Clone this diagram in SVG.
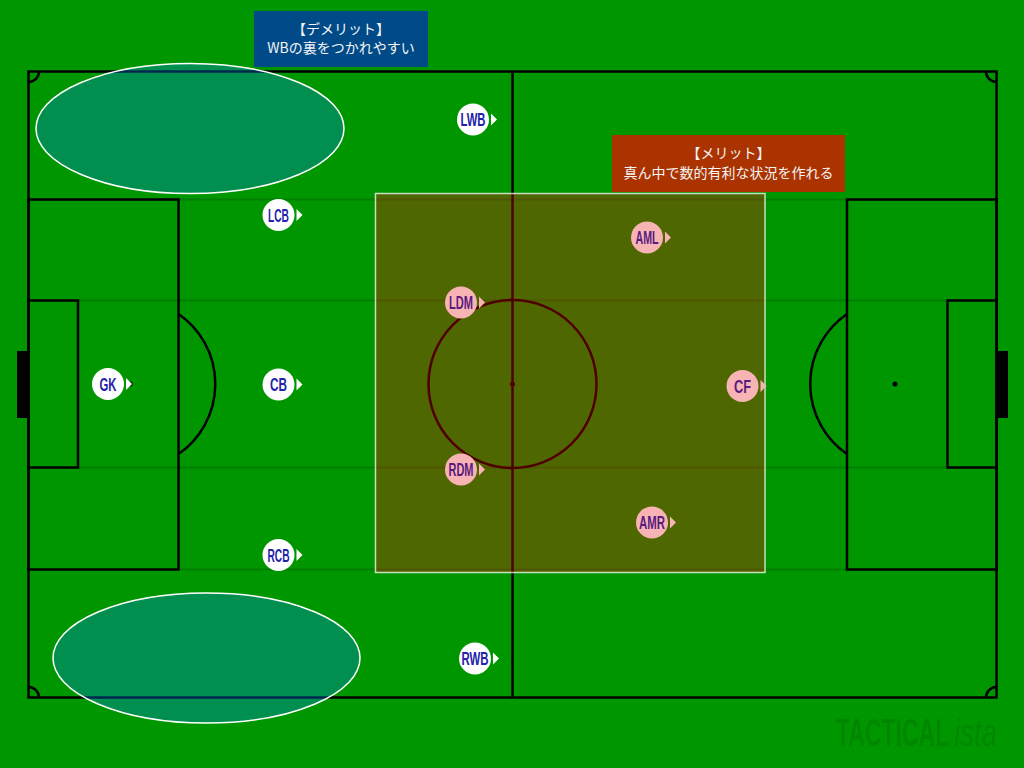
<svg xmlns="http://www.w3.org/2000/svg" width="1024" height="768" viewBox="0 0 1024 768">
<defs>
<style>
.ln{fill:none;stroke:#000;stroke-width:2.5}
.guide{stroke:#000;stroke-opacity:0.15;stroke-width:2}
.zone{fill:#0080ff;fill-opacity:0.31;stroke:#fff;stroke-width:1.5}
.nw circle{fill:#fff}
.nw path{fill:#fff}
.nw text{fill:#2222aa}
.np circle{fill:#f8b4b4}
.np path{fill:#f8b4b4}
.np text{fill:#5a1a80}
.lbl{font-family:"Liberation Sans",Arial,sans-serif;font-weight:700;font-size:18px;text-anchor:middle}
.note{font-family:"Noto Sans CJK JP","Noto Sans",sans-serif;font-size:14px;fill:#f4f4f4;text-anchor:middle}
.wm{font-family:"Liberation Sans",Arial,sans-serif;font-size:38px;fill:#000;fill-opacity:0.1}
</style>
</defs>
<rect width="1024" height="768" fill="#009600"/>
<g id="pitch">
<rect class="ln" x="28.5" y="71.5" width="968" height="626"/>
<line class="ln" x1="512.5" y1="71.5" x2="512.5" y2="697.5"/>
<circle class="ln" cx="512.5" cy="384" r="84"/>
<circle cx="512.5" cy="384" r="2.5" fill="#000"/>
<rect class="ln" x="28.5" y="199.5" width="150" height="370"/>
<rect class="ln" x="28.5" y="300.5" width="49.5" height="167"/>
<rect class="ln" x="847" y="199.5" width="149.5" height="370"/>
<rect class="ln" x="947.5" y="300.5" width="49" height="167"/>
<path class="ln" d="M178.5 314 A85 85 0 0 1 178.5 454"/>
<path class="ln" d="M847 314 A85 85 0 0 0 847 454"/>
<circle cx="130" cy="384" r="2.5" fill="#000"/>
<circle cx="895" cy="384" r="2.5" fill="#000"/>
<rect x="17" y="351" width="11" height="67" fill="#000"/>
<rect x="997" y="351" width="11" height="67" fill="#000"/>
<path class="ln" d="M28.5 82 A10.5 10.5 0 0 0 39 71.5"/>
<path class="ln" d="M986 71.5 A10.5 10.5 0 0 0 996.5 82"/>
<path class="ln" d="M39 697.5 A10.5 10.5 0 0 0 28.5 687"/>
<path class="ln" d="M996.5 687 A10.5 10.5 0 0 0 986 697.5"/>
<line class="guide" x1="28" y1="199.5" x2="997" y2="199.5"/>
<line class="guide" x1="28" y1="300.5" x2="997" y2="300.5"/>
<line class="guide" x1="28" y1="467.5" x2="997" y2="467.5"/>
<line class="guide" x1="28" y1="569.5" x2="997" y2="569.5"/>
</g>
<g id="watermark">
<text class="wm" transform="translate(836 746) scale(0.605 1)" font-weight="700">TACTICAL</text>
<text class="wm" transform="translate(954 746) scale(0.73 1)" font-style="italic">ista</text>
</g>
<g id="zones">
<rect id="merit-area" x="375.5" y="193.5" width="389.5" height="379" fill="#ff0000" fill-opacity="0.31" stroke="#fff" stroke-opacity="0.75" stroke-width="1.5"/>
<ellipse id="weak-top" class="zone" cx="190" cy="128.5" rx="154" ry="65"/>
<ellipse id="weak-bottom" class="zone" cx="206.5" cy="658" rx="153.5" ry="65"/>
</g>
<g id="demerit">
<rect x="254" y="11" width="174" height="56" fill="#004a88"/>
<text class="note" x="341" y="34">【デメリット】</text>
<text class="note" x="341" y="53">WBの裏をつかれやすい</text>
</g>
<g id="merit">
<rect x="612" y="135" width="233" height="57" fill="#aa3300"/>
<text class="note" x="728.5" y="158">【メリット】</text>
<text class="note" x="728.5" y="177.5">真ん中で数的有利な状況を作れる</text>
</g>
<g id="GK" class="nw"><circle cx="108" cy="384" r="16"/><path d="M126 378 L132 384 L126 390 Z"/><text class="lbl" x="108" y="390.5" textLength="17" lengthAdjust="spacingAndGlyphs">GK</text></g>
<g id="LCB" class="nw"><circle cx="278.5" cy="215" r="16"/><path d="M296.5 209 L302.5 215 L296.5 221 Z"/><text class="lbl" x="278.5" y="221.5" textLength="21" lengthAdjust="spacingAndGlyphs">LCB</text></g>
<g id="CB" class="nw"><circle cx="278.5" cy="384.5" r="16"/><path d="M296.5 378.5 L302.5 384.5 L296.5 390.5 Z"/><text class="lbl" x="278.5" y="391" textLength="17" lengthAdjust="spacingAndGlyphs">CB</text></g>
<g id="RCB" class="nw"><circle cx="278.5" cy="555" r="16"/><path d="M296.5 549 L302.5 555 L296.5 561 Z"/><text class="lbl" x="278.5" y="561.5" textLength="22" lengthAdjust="spacingAndGlyphs">RCB</text></g>
<g id="LWB" class="nw"><circle cx="473" cy="119.5" r="16"/><path d="M491 113.5 L497 119.5 L491 125.5 Z"/><text class="lbl" x="473" y="126" textLength="25" lengthAdjust="spacingAndGlyphs">LWB</text></g>
<g id="RWB" class="nw"><circle cx="475" cy="658.5" r="16"/><path d="M493 652.5 L499 658.5 L493 664.5 Z"/><text class="lbl" x="475" y="665" textLength="27" lengthAdjust="spacingAndGlyphs">RWB</text></g>
<g id="LDM" class="np"><circle cx="461" cy="302.5" r="16"/><path d="M479 296.5 L485 302.5 L479 308.5 Z"/><text class="lbl" x="461" y="309" textLength="24" lengthAdjust="spacingAndGlyphs">LDM</text></g>
<g id="RDM" class="np"><circle cx="461" cy="469.5" r="16"/><path d="M479 463.5 L485 469.5 L479 475.5 Z"/><text class="lbl" x="461" y="476" textLength="25" lengthAdjust="spacingAndGlyphs">RDM</text></g>
<g id="AML" class="np"><circle cx="647" cy="237.5" r="16"/><path d="M665 231.5 L671 237.5 L665 243.5 Z"/><text class="lbl" x="647" y="244" textLength="23" lengthAdjust="spacingAndGlyphs">AML</text></g>
<g id="AMR" class="np"><circle cx="652" cy="522.5" r="16"/><path d="M670 516.5 L676 522.5 L670 528.5 Z"/><text class="lbl" x="652" y="529" textLength="26" lengthAdjust="spacingAndGlyphs">AMR</text></g>
<g id="CF" class="np"><circle cx="742.5" cy="386" r="16"/><path d="M760.5 380 L766.5 386 L760.5 392 Z"/><text class="lbl" x="742.5" y="392.5" textLength="17" lengthAdjust="spacingAndGlyphs">CF</text></g>
<g id="connectors"/>
</svg>
